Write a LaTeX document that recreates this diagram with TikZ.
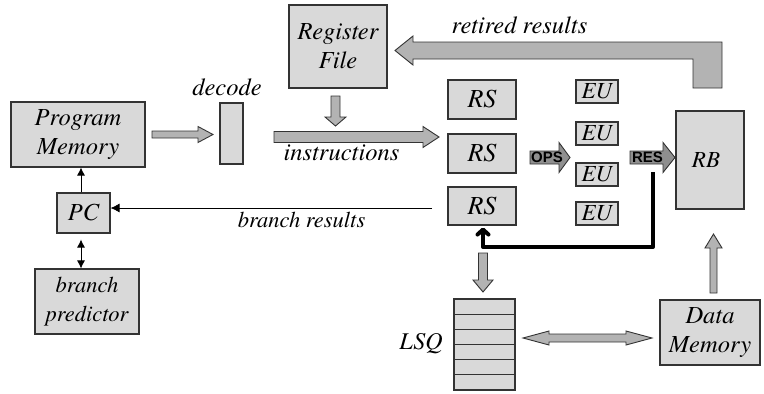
\documentclass[tikz,border=0pt]{standalone}
\usepackage{fontspec}
\setmainfont{texgyretermes}[Extension=.otf, UprightFont=*-regular, ItalicFont=*-italic, BoldFont=*-bold, BoldItalicFont=*-bolditalic]
\setsansfont{Liberation Sans}
\usetikzlibrary{arrows.meta}
\definecolor{boxgray}{HTML}{D9D9D9}
\definecolor{arrgray}{HTML}{B3B3B3}
\definecolor{darkarr}{HTML}{8F8F8F}
\definecolor{edgegray}{HTML}{333333}
\newcommand\fsz[1]{\fontsize{#1}{29}\selectfont\itshape}
% right/left pointing block arrow: x1 x2 y shafthalf headhalf headlen
\newcommand\barR[6]{\draw[barrow] (#1,{#3-#4}) -- ({#2-#6},{#3-#4}) -- ({#2-#6},{#3-#5}) -- (#2,#3) -- ({#2-#6},{#3+#5}) -- ({#2-#6},{#3+#4}) -- (#1,{#3+#4}) -- cycle;}
% down/up pointing block arrow: x y1 y2 shafthalf headhalf headlen
\newcommand\barD[6]{\draw[barrow] ({#1-#4},#2) -- ({#1-#4},{#3-#6}) -- ({#1-#5},{#3-#6}) -- (#1,#3) -- ({#1+#5},{#3-#6}) -- ({#1+#4},{#3-#6}) -- ({#1+#4},#2) -- cycle;}
\begin{document}
\begin{tikzpicture}[x=1pt,y=-1pt,
  box/.style={draw=edgegray, fill=boxgray, line width=1.1pt, inner sep=0pt, align=center, font=\fsz{24.5}},
  barrow/.style={draw=edgegray, fill=arrgray, line width=0.9pt, line join=miter},
  lbl/.style={inner sep=0pt, anchor=base, font=\fsz{24.5}},
  thin/.style={line width=0.8pt, draw=black},
  tag/.style={inner sep=0pt, font=\sffamily\bfseries\fontsize{15}{16}\selectfont}]
\useasboundingbox (0,0) rectangle (764,394);

% boxes
\node[box, minimum width=134, minimum height=65] (pm) at (78,134.5) {Program\\Memory};
\node[box, minimum width=23, minimum height=61] (dec) at (231.5,133.5) {};
\node[box, minimum width=98, minimum height=83] (rf) at (338,46.5) {Register\\File};
\node[box, minimum width=68, minimum height=39, font=\fsz{26}] (rs1) at (482,99.5) {RS};
\node[box, minimum width=68, minimum height=39, font=\fsz{26}] (rs2) at (482,153.5) {RS};
\node[box, minimum width=68, minimum height=38, font=\fsz{26}] (rs3) at (482,206) {RS};
\node[box, minimum width=42, minimum height=23, font=\fsz{23}] (eu1) at (597,91.5) {EU};
\node[box, minimum width=42, minimum height=23, font=\fsz{23}] (eu2) at (597,133.5) {EU};
\node[box, minimum width=42, minimum height=23, font=\fsz{23}] (eu3) at (597,174.5) {EU};
\node[box, minimum width=42, minimum height=23, font=\fsz{23}] (eu4) at (597,213.5) {EU};
\node[box, minimum width=68, minimum height=98, font=\fsz{23}] (rb) at (710,160) {RB\hspace*{8pt}};
\node[box, minimum width=53, minimum height=40, font=\fsz{24.5}] (pc) at (83.5,213) {PC};
\node[box, minimum width=104, minimum height=65, font=\fsz{22.5}] (bp) at (87,301.5) {branch\\predictor};
\node[box, minimum width=100, minimum height=65] (dm) at (710,332.5) {Data\\Memory};
\node[box, minimum width=61, minimum height=91] (lsq) at (484.5,344.5) {};
\foreach \k in {1,...,5}{\draw[line width=1.1pt, draw=edgegray] (454,{299+\k*15.17}) -- (515,{299+\k*15.17});}

% labels
\node[lbl] (ldec) at (227,95) {decode};
\node[lbl] (lins) at (341.5,160) {instructions};
\node[lbl] (lret) at (519.5,33) {retired results};
\node[lbl, font=\fsz{22.5}] (lbr) at (301.5,227) {branch results};
\node[lbl, font=\fsz{24}] (llsq) at (421,349) {LSQ};

% block arrows
\barR{152}{213}{134.5}{3.5}{8}{15}
\barD{335.5}{96}{126}{4.5}{10.5}{9}
\barR{274}{439}{137}{5.5}{10.5}{16}
\begin{scope}[barrow/.append style={fill=darkarr}]
\barR{530}{570}{157.5}{6.5}{15}{11}
\barR{630}{675}{157.5}{6.5}{15}{12}
\end{scope}
\node[tag] (ops) at (547,157.5) {OPS};
\node[tag] (res) at (647.5,157.5) {RES};
\barD{483}{253}{292}{4.5}{10}{12}
\barD{713.5}{293}{234}{3.5}{8.5}{-14}
\draw[barrow] (693,88) -- (693,59) -- (413,59) -- (413,65) -- (395,50.5) -- (413,36) -- (413,42) -- (722,42) -- (722,88) -- cycle;
\draw[barrow] (523,338) -- (549,331) -- (549,334) -- (626,334) -- (626,331) -- (652,338) -- (626,345) -- (626,342) -- (549,342) -- (549,345) -- cycle;

% thin connectors
\coordinate (colx) at (81,0);
\draw[thin, -{Latex[length=8pt,width=8pt]}] (pc.north -| colx) -- (pm.south -| colx);
\draw[thin, {Latex[length=8pt,width=8pt]}-{Latex[length=8pt,width=8pt]}] ([yshift=-6pt]pc.south -| colx) -- (bp.north -| colx);
\coordinate (brs) at (432,208);
\draw[thin, -{Latex[length=9pt,width=9pt]}] (brs) -- (brs -| pc.east);

% thick result bus
\coordinate (resfoot) at (653,172);
\coordinate (bend) at (483,247);
\draw[line width=4pt, line join=round, -{Straight Barb[length=5pt,width=11pt,round]}] (resfoot) |- (bend) -- ([yshift=-2pt]rs3.south -| bend);
\end{tikzpicture}
\end{document}
